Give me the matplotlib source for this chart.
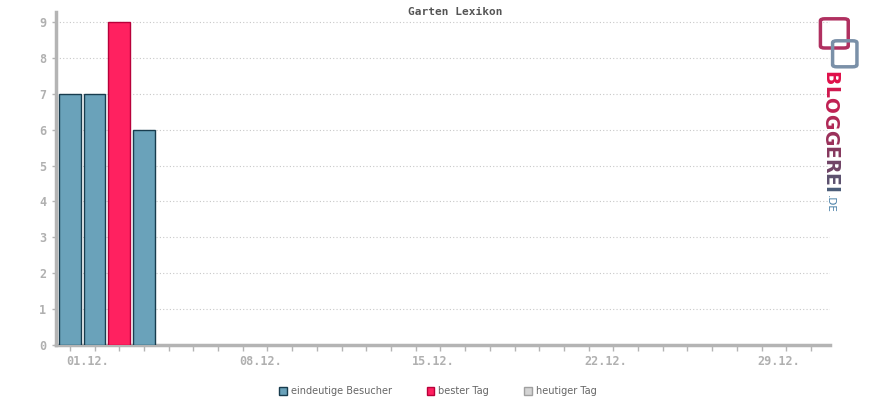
from matplotlib import pyplot as plt
from matplotlib import patches
import matplotlib.transforms as mtrans

# Visitors per day in December
days = [1, 2, 3, 4]
visitors = [7, 7, 9, 6]
best_day = 3
tick_days = [1, 8, 15, 22, 29]
tick_labels = ['01.12.', '08.12.', '15.12.', '22.12.', '29.12.']
legend_labels = ['eindeutige Besucher', 'bester Tag', 'heutiger Tag']

blue, blue_edge = '#6aa2ba', '#183c4e'
red, red_edge = '#ff2160', '#b8003a'
grey = '#b4b4b4'

fig = plt.figure(figsize=(8.7, 4), dpi=100, facecolor='white')
ax = fig.add_axes([0.0644, 0.1375, 0.8896, 0.8325])

colors = [red if d == best_day else blue for d in days]
edges = [red_edge if d == best_day else blue_edge for d in days]
ax.bar(days, visitors, width=0.88, color=colors, edgecolor=edges, linewidth=1, zorder=3)

ax.set_xlim(0.44, 31.77)
ax.set_ylim(0, 9.28)
ax.set_yticks(range(0, 10))
ax.set_xticks(range(1, 32), minor=True)
ax.set_xticks(tick_days)
ax.set_xticklabels(tick_labels, ha='left')
ax.grid(axis='y', color='#c8c8c8', linestyle=(0, (1, 2)), linewidth=0.8, zorder=0)

for side in ['top', 'right']:
    ax.spines[side].set_visible(False)
for side in ['left', 'bottom']:
    ax.spines[side].set_color(grey)
    ax.spines[side].set_linewidth(2.5)

ax.tick_params(axis='both', which='both', colors=grey, width=1, length=4)
ax.tick_params(axis='y', length=3, pad=4)
for lab in ax.get_xticklabels() + ax.get_yticklabels():
    lab.set_family('DejaVu Sans Mono')
    lab.set_fontweight('bold')
    lab.set_fontsize(8.5)
    lab.set_color('#b0b0b0')
offset = mtrans.ScaledTranslation(-4 / 100, 0, fig.dpi_scale_trans)
for lab in ax.get_xticklabels():
    lab.set_transform(lab.get_transform() + offset)

fig.text(0.523, 0.97, 'Garten Lexikon', ha='center', va='center', family='DejaVu Sans Mono',
         fontweight='bold', fontsize=8, color='#555555')

handles = [patches.Patch(facecolor=blue, edgecolor=blue_edge, label=legend_labels[0]),
           patches.Patch(facecolor=red, edgecolor=red_edge, label=legend_labels[1]),
           patches.Patch(facecolor='#d4d4d4', edgecolor='#a0a0a0', label=legend_labels[2])]
leg = fig.legend(handles=handles, loc='center', bbox_to_anchor=(0.503, 0.022), ncol=3, frameon=False,
                 fontsize=7, handlelength=0.8, handleheight=0.8, handletextpad=0.4, columnspacing=3.6)
for t in leg.get_texts():
    t.set_color('#666666')

# logo (vertical letters, colour fading from red to blue)
logo_letters = ['B', 'L', 'O', 'G', 'G', 'E', 'R', 'E', 'I']
logo_widths = [13, 11, 15, 15, 15, 12, 13, 12, 6]
logo_colors = ['#e0104a', '#d0184e', '#c02052', '#b02856', '#9a305a', '#86385e',
               '#704466', '#5c506e', '#4a5c78']
ypix = 72
for ch, w, c in zip(logo_letters, logo_widths, logo_colors):
    fig.text(0.954, 1 - (ypix + w / 2) / 400, ch, rotation=-90, ha='center', va='center',
             fontsize=13.5, fontweight='bold', color=c, family='DejaVu Sans')
    ypix += w * 1.08
fig.text(0.954, 1 - (ypix + 11) / 400, '.DE', rotation=-90, ha='center', va='center',
         fontsize=7.5, color='#4a80a8', family='DejaVu Sans')
fig.patches.append(patches.FancyBboxPatch((0.948, 0.885), 0.022, 0.063, boxstyle='round,pad=0.005',
                                          transform=fig.transFigure, fill=False,
                                          edgecolor='#b03060', linewidth=2.5))
fig.patches.append(patches.FancyBboxPatch((0.962, 0.838), 0.018, 0.055, boxstyle='round,pad=0.005',
                                          transform=fig.transFigure, fill=False,
                                          edgecolor='#7a90a8', linewidth=2.5))

fig.savefig('out.png', dpi=100)
